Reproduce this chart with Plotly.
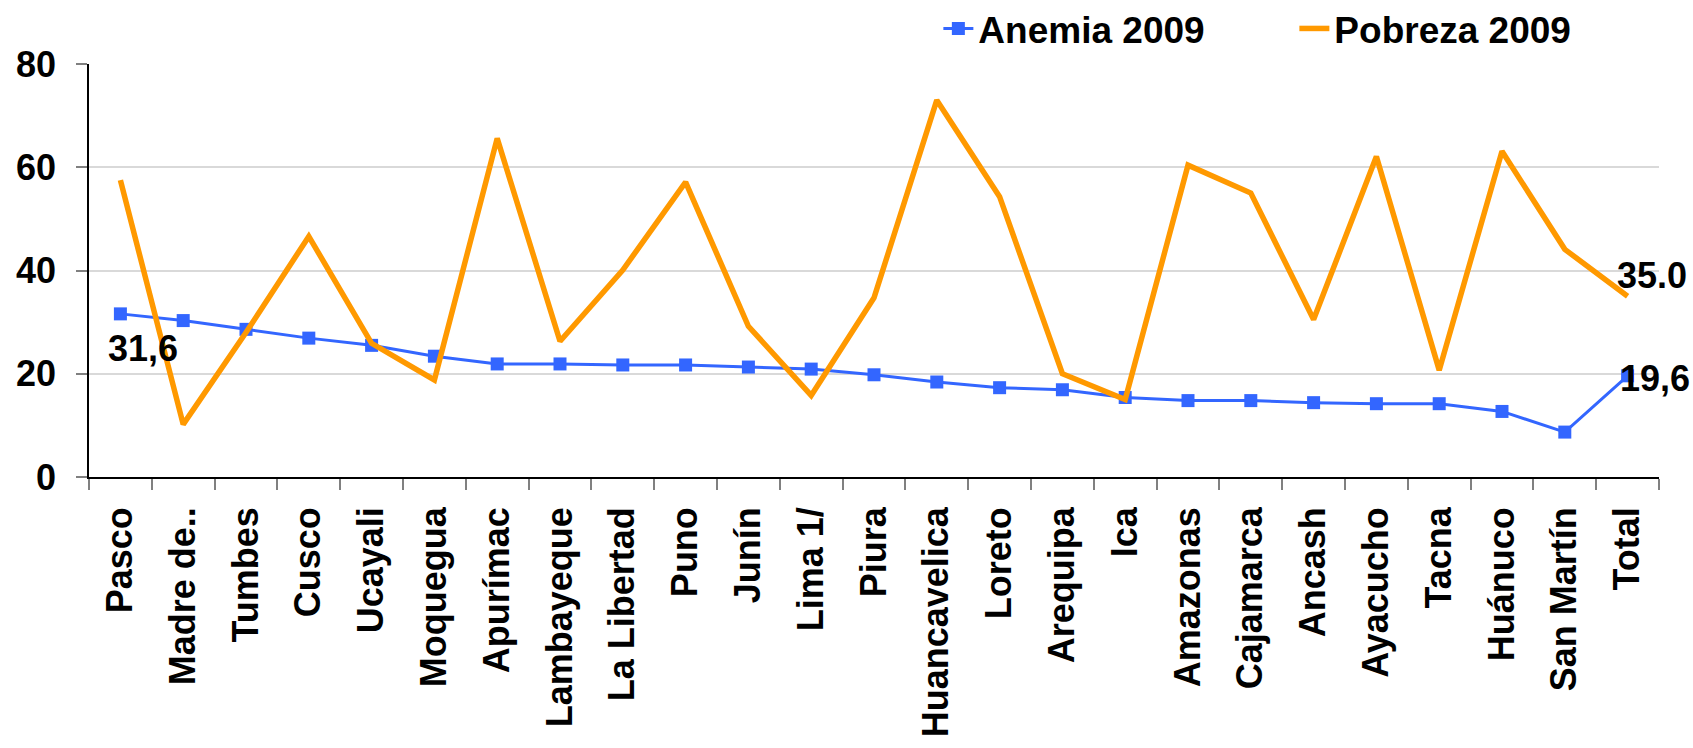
import plotly.graph_objects as go

# data
regiones = ['Pasco', 'Madre de..', 'Tumbes', 'Cusco', 'Ucayali', 'Moquegua', 'Apurímac',
            'Lambayeque', 'La Libertad', 'Puno', 'Junín', 'Lima 1/', 'Piura', 'Huancavelica',
            'Loreto', 'Arequipa', 'Ica', 'Amazonas', 'Cajamarca', 'Ancash', 'Ayacucho',
            'Tacna', 'Huánuco', 'San Martín', 'Total']
anemia_2009 = [31.6, 30.3, 28.6, 26.9, 25.5, 23.4, 21.9, 21.9, 21.7, 21.7, 21.3, 20.9, 19.8,
               18.4, 17.3, 16.9, 15.4, 14.8, 14.8, 14.4, 14.2, 14.2, 12.7, 8.7, 19.6]
pobreza_2009 = [57.5, 10.2, 28.0, 46.6, 25.9, 18.8, 65.6, 26.3, 40.1, 57.1, 29.2, 15.8, 34.7,
                73.0, 54.3, 20.0, 15.0, 60.4, 55.0, 30.5, 62.1, 20.7, 63.1, 44.1, 35.0]
y_ticks = [0, 20, 40, 60, 80]

FONT = 'Liberation Sans, Arial, sans-serif'
BLUE = '#3366FF'
ORANGE = '#FF9900'

fig = go.Figure()
fig.add_trace(go.Scatter(
    x=regiones, y=anemia_2009, name='Anemia 2009', mode='lines+markers',
    line={'color': BLUE, 'width': 3},
    marker={'symbol': 'square', 'size': 13, 'color': BLUE},
))
fig.add_trace(go.Scatter(
    x=regiones, y=pobreza_2009, name='Pobreza 2009', mode='lines',
    line={'color': ORANGE, 'width': 5.5},
))

label_font = {'family': FONT, 'size': 36, 'color': 'black', 'weight': 700}
fig.add_annotation(x=regiones[0], y=anemia_2009[0], text='31,6', showarrow=False,
                   xanchor='left', yanchor='top', xshift=-14, yshift=-12, font=label_font)
fig.add_annotation(x=regiones[-1], y=pobreza_2009[-1], text='35.0', showarrow=False,
                   xanchor='left', yanchor='bottom', xshift=-13, yshift=-2, font=label_font)
fig.add_annotation(x=regiones[-1], y=anemia_2009[-1], text='19,6', showarrow=False,
                   xanchor='left', yanchor='middle', xshift=-10, yshift=-3, font=label_font)

fig.update_layout(
    width=1693, height=748,
    margin={'l': 89, 'r': 34, 't': 64, 'b': 271, 'autoexpand': False},
    paper_bgcolor='white', plot_bgcolor='white',
    font={'family': FONT, 'color': 'black'},
    showlegend=True,
    legend={
        'orientation': 'h', 'x': 0.541, 'xanchor': 'left', 'y': 1.085, 'yanchor': 'middle',
        'font': {'family': FONT, 'size': 37, 'color': 'black', 'weight': 700},
        'entrywidth': 311, 'bgcolor': 'rgba(0,0,0,0)',
    },
    xaxis={
        'type': 'category', 'range': [-0.5, len(regiones) - 0.5],
        'showgrid': False, 'showline': True, 'linecolor': 'black',
        'linewidth': 1.5, 'ticks': 'outside', 'tickson': 'boundaries', 'ticklen': 11,
        'tickcolor': '#808080', 'tickwidth': 1.5, 'tickangle': -90, 'automargin': False,
        'ticklabelstandoff': 14,
        'tickfont': {'family': FONT, 'size': 36, 'color': 'black', 'weight': 700},
    },
    yaxis={
        'range': [0, 80], 'tickvals': y_ticks, 'showgrid': True, 'gridcolor': '#D9D9D9',
        'gridwidth': 1.5, 'zeroline': False, 'showline': True, 'linecolor': 'black',
        'linewidth': 1.5, 'ticks': 'outside', 'ticklen': 11, 'tickcolor': '#808080',
        'tickwidth': 1.5, 'automargin': False, 'ticklabelstandoff': 13,
        'tickfont': {'family': FONT, 'size': 36, 'color': 'black', 'weight': 700},
    },
)

# drop the page's default body margin so the figure fills the window exactly
fig.write_html('out.html', config={'displayModeBar': False},
               post_script="document.body.style.margin = '0';")
